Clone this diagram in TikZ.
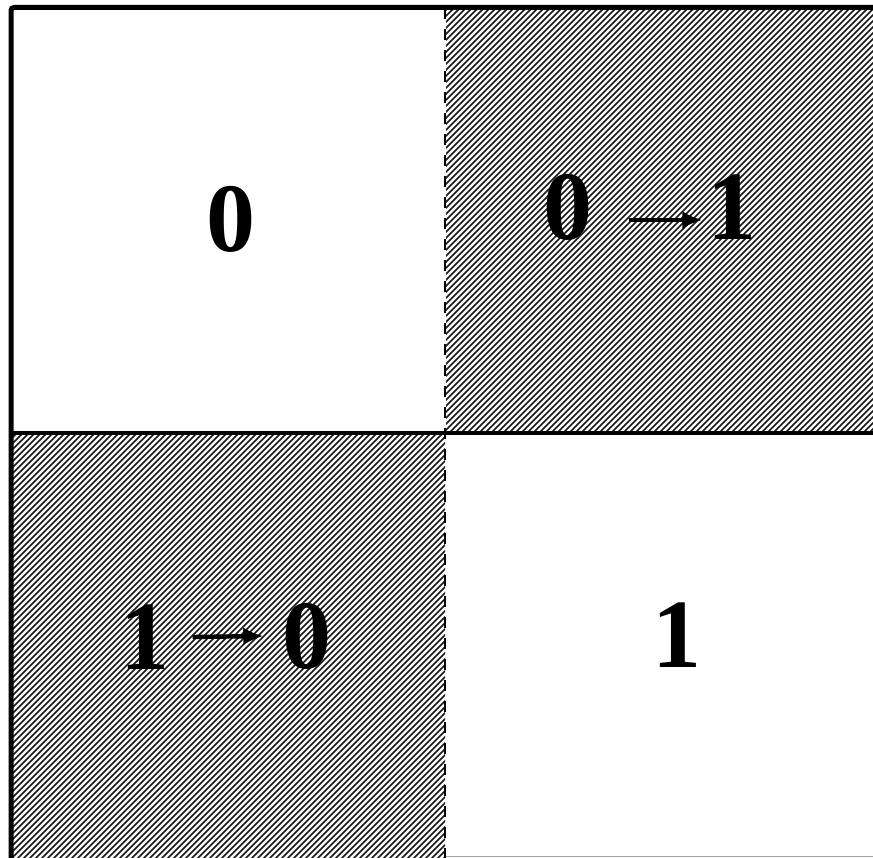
\documentclass[tikz,border=0pt]{standalone}
\usepackage{fontspec}
\setmainfont{Liberation Serif}
\usetikzlibrary{arrows.meta}
\begin{document}
\begin{tikzpicture}[x=1pt,y=-1pt,
  digit/.style={inner sep=0pt, font=\bfseries\fontsize{98}{98}\selectfont},
  arr/.style={line width=4.4pt, -{Latex[length=20pt,width=18pt]}},
  hatchline/.style={line width=1.6pt, black!90}]
\useasboundingbox (0,0) rectangle (873,858);
\fill[white] (0,0) rectangle (873,858);
% hatched regions
\begin{scope}
  \clip (446,8) rectangle (873,432);
  \foreach \c in {-444,-438,...,900} {
    \draw[hatchline] (\c,900) -- (\c+900,0);
  }
\end{scope}
\begin{scope}
  \clip (11,434) rectangle (445,857);
  \foreach \c in {-900,-894,...,460} {
    \draw[hatchline] (\c,900) -- (\c+900,0);
  }
\end{scope}
% frame
\draw[line width=5pt, rounded corners=3pt] (11,858) -- (11,7.5) -- (873,7.5);
\draw[line width=4.2pt] (9,433) -- (873,433);
\draw[line width=1.5pt, gray!70] (445,856.5) -- (873,856.5);
\draw[line width=2pt, dash pattern=on 11pt off 10pt] (445,8) -- (445,858);
% labels
\node[digit] (tl) at (231,219) {0};
\node[digit] (tr0) at (568,207) {0};
\node[digit] (tr1) at (732,207) {1};
\node[digit] (bl1) at (145,637) {1};
\node[digit] (bl0) at (307,636) {0};
\node[digit] (br) at (677,635) {1};
\draw[arr] ([xshift=36pt,yshift=-13pt]tr0.east) -- ([xshift=-5pt,yshift=-13pt]tr1.west);
\draw[arr] ([xshift=23pt]bl1.east) -- ([xshift=-19pt]bl0.west);
\end{tikzpicture}
\end{document}
